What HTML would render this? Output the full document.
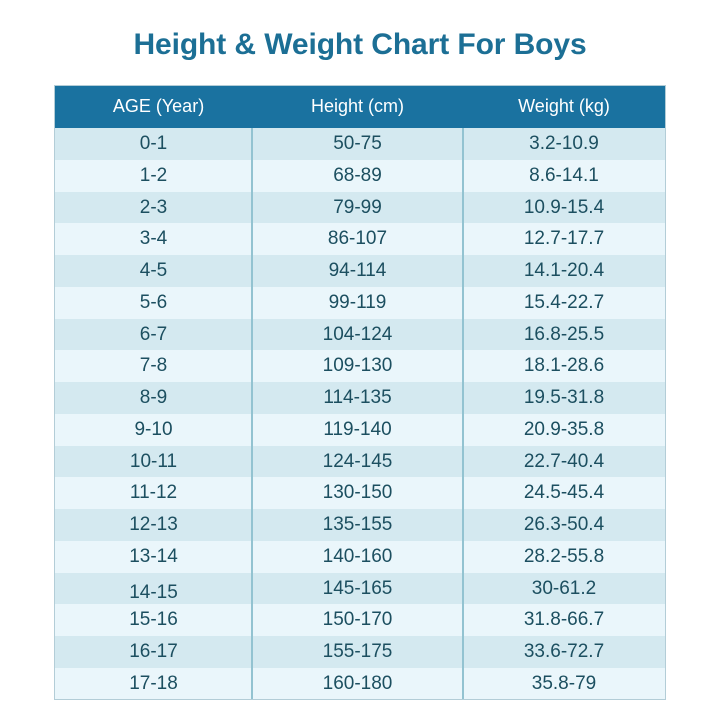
<!DOCTYPE html>
<html><head><meta charset="utf-8"><style>
html,body{margin:0;padding:0;background:#fff;}
body{width:720px;height:720px;position:relative;overflow:hidden;font-family:"Liberation Sans",sans-serif;}
.title{position:absolute;left:0;width:720px;top:28px;text-align:center;font-size:30px;font-weight:bold;color:#1c6f95;letter-spacing:-0.1px;}
.tbl{position:absolute;left:54px;top:85px;width:612px;height:615px;border:1px solid #b3cdd7;box-sizing:border-box;z-index:5;}
.hdr{position:absolute;left:55px;top:85px;width:610px;height:43px;background:#1a72a0;}
.h{position:absolute;top:85px;height:43px;line-height:43px;color:#fff;font-size:18px;text-align:center;}
.row{position:absolute;left:55px;width:610px;}
.c{position:absolute;text-align:center;color:#1c4f60;font-size:19px;}
.vl{position:absolute;top:128px;height:571px;width:2px;background:#93c3d1;}
</style></head><body>
<div class="title">Height &amp; Weight Chart For Boys</div>
<div class="tbl"></div>
<div class="hdr"></div>
<div class="h" style="left:60px;width:197px;">AGE (Year)</div>
<div class="h" style="left:252px;width:211px;">Height (cm)</div>
<div class="h" style="left:463px;width:202px;">Weight (kg)</div>
<div id="rows"></div>
<script>
var d=[["0-1","50-75","3.2-10.9"],["1-2","68-89","8.6-14.1"],["2-3","79-99","10.9-15.4"],["3-4","86-107","12.7-17.7"],["4-5","94-114","14.1-20.4"],["5-6","99-119","15.4-22.7"],["6-7","104-124","16.8-25.5"],["7-8","109-130","18.1-28.6"],["8-9","114-135","19.5-31.8"],["9-10","119-140","20.9-35.8"],["10-11","124-145","22.7-40.4"],["11-12","130-150","24.5-45.4"],["12-13","135-155","26.3-50.4"],["13-14","140-160","28.2-55.8"],["14-15","145-165","30-61.2"],["15-16","150-170","31.8-66.7"],["16-17","155-175","33.6-72.7"],["17-18","160-180","35.8-79"]];
var h="",rh=31.75;
for(var i=0;i<d.length;i++){
 var t=128+i*rh;
 h+='<div class="row" style="top:'+t+'px;height:'+rh+'px;background:'+(i%2?'#eaf6fb':'#d4e9f0')+'"></div>';
 var off=(i==14)?4:0;
 var xs=[[55,197],[252,211],[463,202]];
 for(var j=0;j<3;j++){
  h+='<div class="c" style="left:'+xs[j][0]+'px;width:'+xs[j][1]+'px;top:'+(t+(j==0?off:0))+'px;height:'+rh+'px;line-height:'+rh+'px;">'+d[i][j]+'</div>';
 }
}
h+='<div class="vl" style="left:251px"></div><div class="vl" style="left:462px"></div>';
document.getElementById("rows").innerHTML=h;
</script>
</body></html>
